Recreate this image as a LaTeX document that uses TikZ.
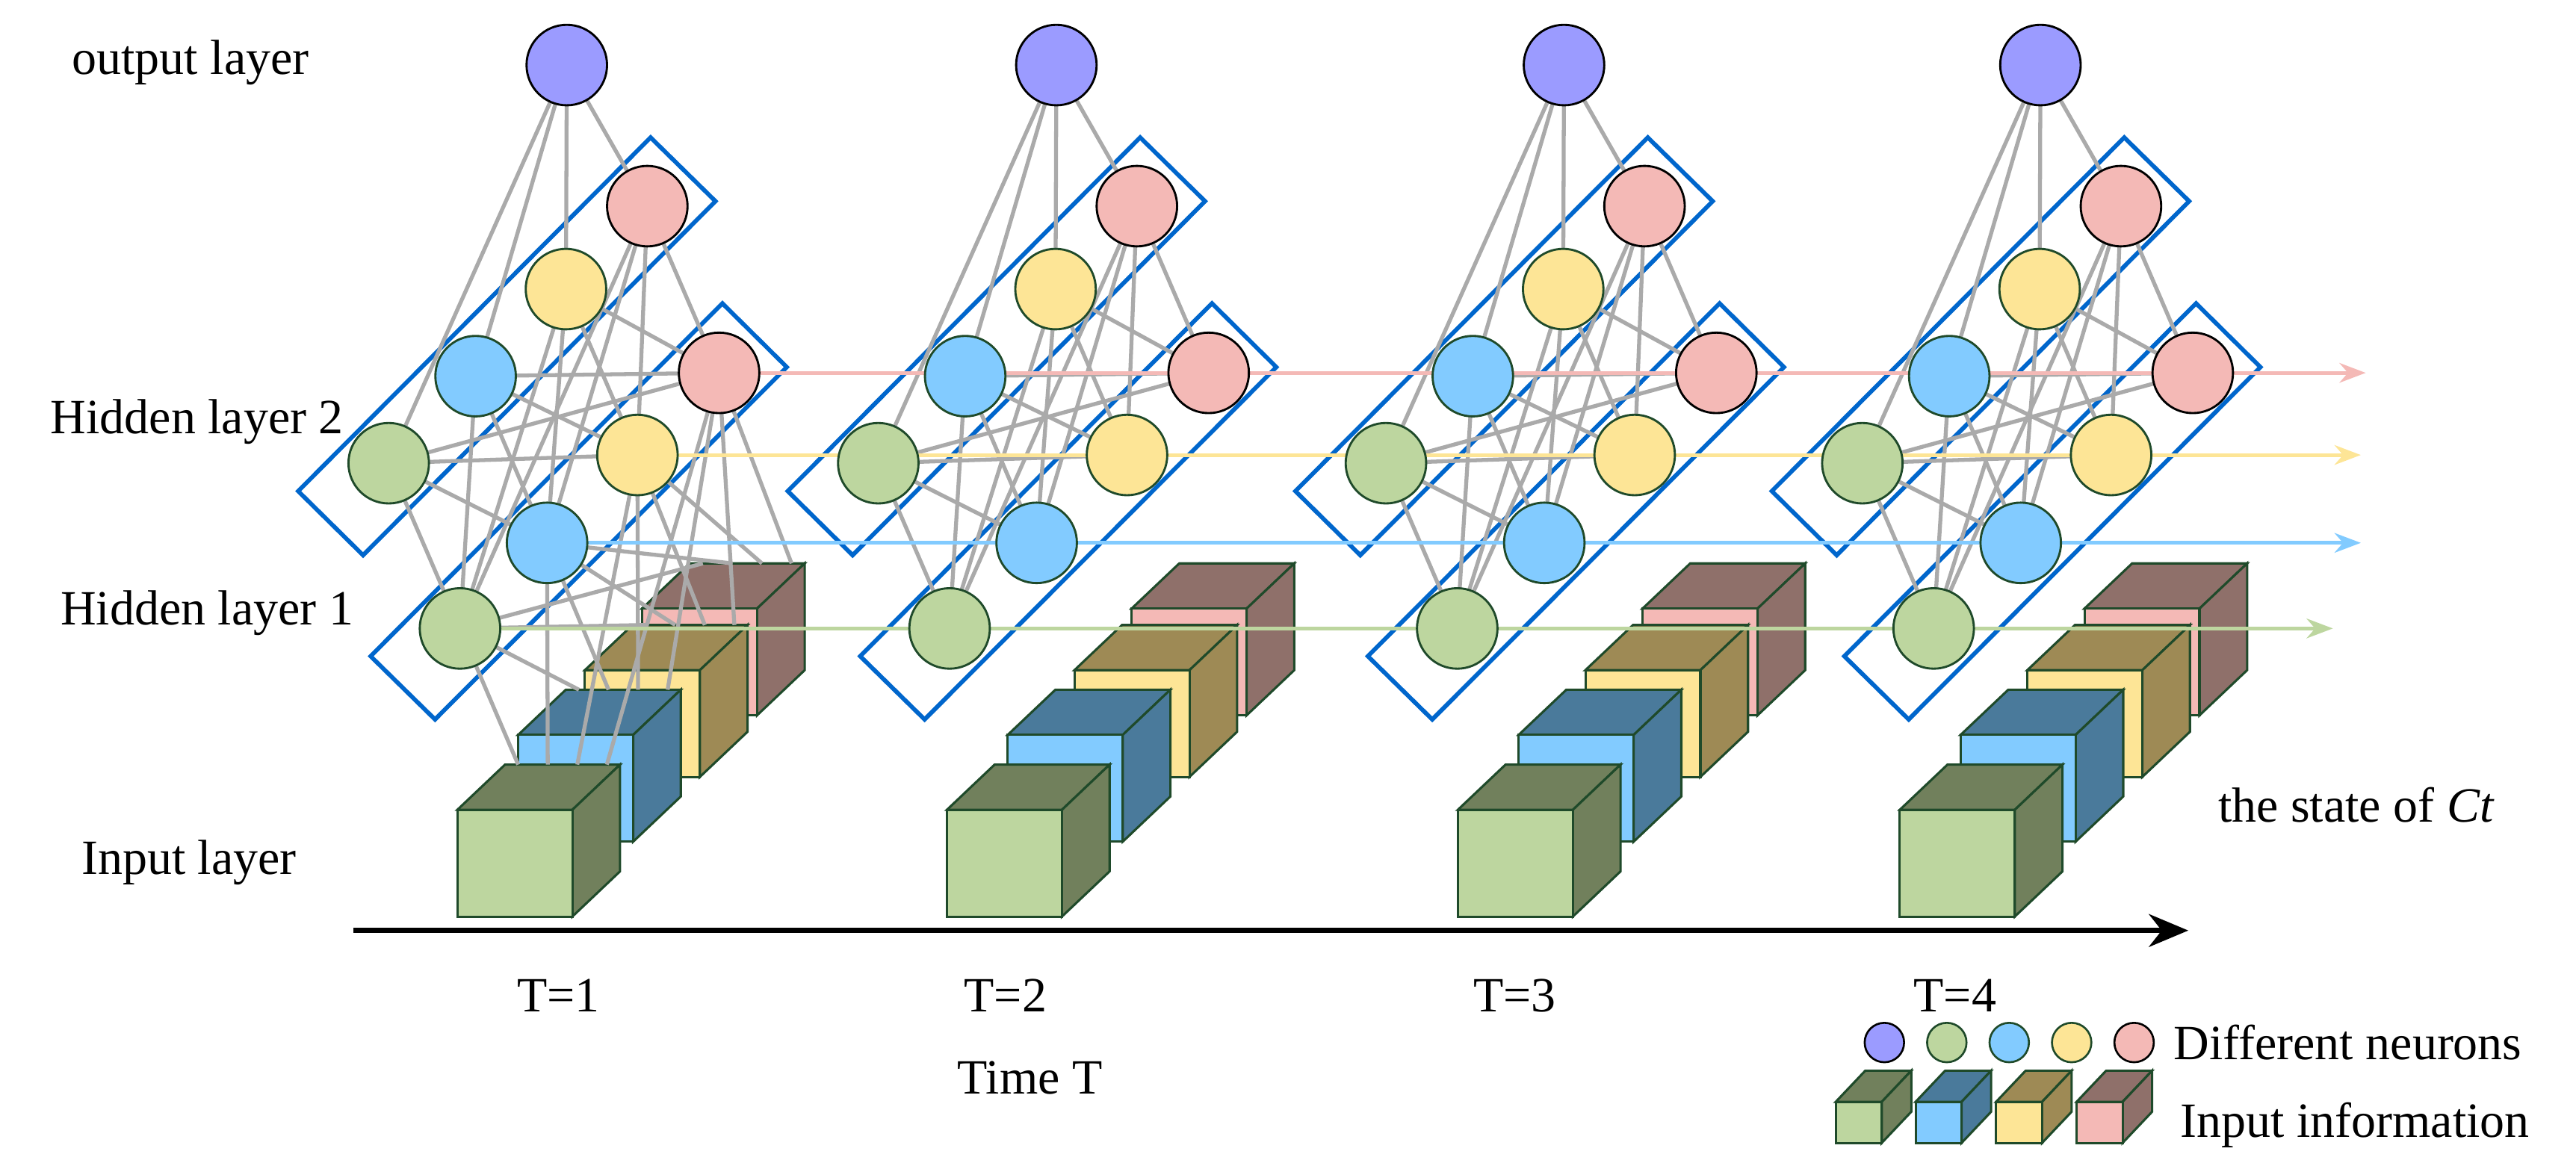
\documentclass[tikz,border=0pt]{standalone}
\usepackage{fontspec}
\setmainfont{Liberation Serif}
\usetikzlibrary{arrows.meta,calc}
\definecolor{cPur}{HTML}{9B9BFF}
\definecolor{cGre}{HTML}{BDD69F}
\definecolor{cBlu}{HTML}{82CBFF}
\definecolor{cYel}{HTML}{FDE596}
\definecolor{cPin}{HTML}{F4B9B6}
\definecolor{sGre}{HTML}{71805C}
\definecolor{sBlu}{HTML}{4A7A9B}
\definecolor{sYel}{HTML}{9E8A55}
\definecolor{sPin}{HTML}{8F706A}
\definecolor{cOut}{HTML}{1F4A2A}
\definecolor{cRect}{HTML}{0066CC}
\definecolor{cEdge}{HTML}{AAAAAA}
\newcommand\mycube[8]{% x y w h dx dy front side
  \filldraw[cubeline,fill=#8] (#1,#2) -- ++(#5,-#6) -- ++(#3,0) -- ++(-#5,#6) -- cycle;
  \filldraw[cubeline,fill=#8] (#1+#3,#2) -- ++(#5,-#6) -- ++(0,#4) -- ++(-#5,#6) -- cycle;
  \filldraw[cubeline,fill=#7] (#1,#2) rectangle ++(#3,#4);}
\tikzset{
  x=1pt,y=-1pt,
  neuron/.style={circle,minimum size=49pt,inner sep=0pt,draw=cOut,line width=1.3pt},
  bneuron/.style={neuron,draw=black},
  cubeline/.style={draw=cOut,line width=1.4pt},
  hrect/.style={draw=cRect,line width=2.6pt},
  edge/.style={draw=cEdge,line width=2.4pt},
  state/.style={line width=2.2pt,-{Stealth[length=16pt,width=12pt]}},
  lbl/.style={font=\fontsize{30}{34}\selectfont,inner sep=0pt},
}
\begin{document}
\begin{tikzpicture}
\useasboundingbox (0,0) rectangle (1568,709.6);
% labels
\node[lbl] (lo) at (116,38) {output layer};
\node[lbl] (l2) at (120,257) {Hidden layer 2};
\node[lbl] (l1) at (126,373) {Hidden layer 1};
\node[lbl] (li) at (115,525) {Input layer};
\node[lbl,anchor=west] (ls) at (1350,490) {the state of \textit{Ct}};
% time axis
\coordinate (ta) at (215,566.5);
\coordinate (tb) at (1332,566.5);
\draw[line width=3pt,-{Stealth[length=24pt,width=20pt]}] (ta) -- (tb);
\foreach \x/\t [count=\i] in {340/1,612/2,922/3,1190/4}
  \node[lbl] (T\i) at (\x,606) {T=\t};
\node[lbl] (tt) at (627,656) {Time T};
% groups
\foreach \g/\o/\c in {1/0/0,2/298/298,3/607/609,4/897/878}{
  \begin{scope}[shift={(\o,0)}]
    \draw[hrect] (181.5,299) -- (221,338) -- (435.5,122.5) -- (396,83.7) -- cycle;
    \draw[hrect] (225.6,399.5) -- (264.8,438) -- (478.9,223.5) -- (439.7,184.7) -- cycle;
  \end{scope}
  \begin{scope}[shift={(\c,0)}]
    \mycube{390.8}{370.5}{70}{65}{29}{27.5}{cPin}{sPin}
    \mycube{356}{408}{70}{65}{29}{27.5}{cYel}{sYel}
    \mycube{315.4}{447.4}{70}{65}{29}{27.5}{cBlu}{sBlu}
    \mycube{278.4}{493}{70}{65}{29}{27.5}{cGre}{sGre}
    \coordinate (cb\g-1) at (307.4,465.5);
    \coordinate (cb\g-2) at (344.4,419.9);
    \coordinate (cb\g-3) at (385,380.5);
    \coordinate (cb\g-4) at (419.8,343);
  \end{scope}
  \begin{scope}[shift={(\o,0)}]
    \coordinate (o\g) at (345,39.6);
    \coordinate (a\g-1) at (236.6,282); \coordinate (a\g-2) at (289.5,229);
    \coordinate (a\g-3) at (344.5,176); \coordinate (a\g-4) at (394,125.5);
    \coordinate (b\g-1) at (280,382.6); \coordinate (b\g-2) at (333,330.5);
    \coordinate (b\g-3) at (388,277);   \coordinate (b\g-4) at (437.7,227);
  \end{scope}
  \foreach \i in {1,...,4}{
    \draw[edge] (o\g) -- (a\g-\i);
    \foreach \j in {1,...,4}{\draw[edge] (a\g-\i) -- (b\g-\j);}
  }
}
% input connections for T=1
\foreach \j in {1,...,4}{
  \foreach \k in {1,...,4}{
    \draw[edge] (b1-\j) -- ($(cb1-\k)+({8+(\j-1)*18},0)$);
  }
}
% state arrows
\coordinate (e4) at (1440,227); \coordinate (e3) at (1437,277);
\coordinate (e2) at (1437,330.5); \coordinate (e1) at (1420,382.6);
\draw[state,draw=cPin] (b1-4) -- (e4);
\draw[state,draw=cYel] (b1-3) -- (e3);
\draw[state,draw=cBlu] (b1-2) -- (e2);
\draw[state,draw=cGre] (b1-1) -- (e1);
% neurons
\foreach \g in {1,...,4}{
  \node[bneuron,fill=cPur] (no\g) at (o\g) {};
  \node[neuron,fill=cGre] (na\g-1) at (a\g-1) {};
  \node[neuron,fill=cBlu] (na\g-2) at (a\g-2) {};
  \node[neuron,fill=cYel] (na\g-3) at (a\g-3) {};
  \node[bneuron,fill=cPin] (na\g-4) at (a\g-4) {};
  \node[neuron,fill=cGre] (nb\g-1) at (b\g-1) {};
  \node[neuron,fill=cBlu] (nb\g-2) at (b\g-2) {};
  \node[neuron,fill=cYel] (nb\g-3) at (b\g-3) {};
  \node[bneuron,fill=cPin] (nb\g-4) at (b\g-4) {};
}
% legend
\foreach \x/\f/\d [count=\i] in {1147/cPur/black,1185/cGre/cOut,1223/cBlu/cOut,1261/cYel/cOut,1299/cPin/black}
  \node[neuron,minimum size=24pt,line width=1.2pt,draw=\d,fill=\f] (lg\i) at (\x,634.7) {};
\node[lbl,anchor=west] (ldn) at (1323,634.7) {Different neurons};
\mycube{1117.4}{670.8}{28}{25}{18}{19}{cGre}{sGre}
\mycube{1166}{670.8}{28}{25}{18}{19}{cBlu}{sBlu}
\mycube{1215}{670.8}{28}{25}{18}{19}{cYel}{sYel}
\mycube{1264}{670.8}{28}{25}{18}{19}{cPin}{sPin}
\node[lbl,anchor=west] (lii) at (1327,685) {Input information};
\end{tikzpicture}
\end{document}
